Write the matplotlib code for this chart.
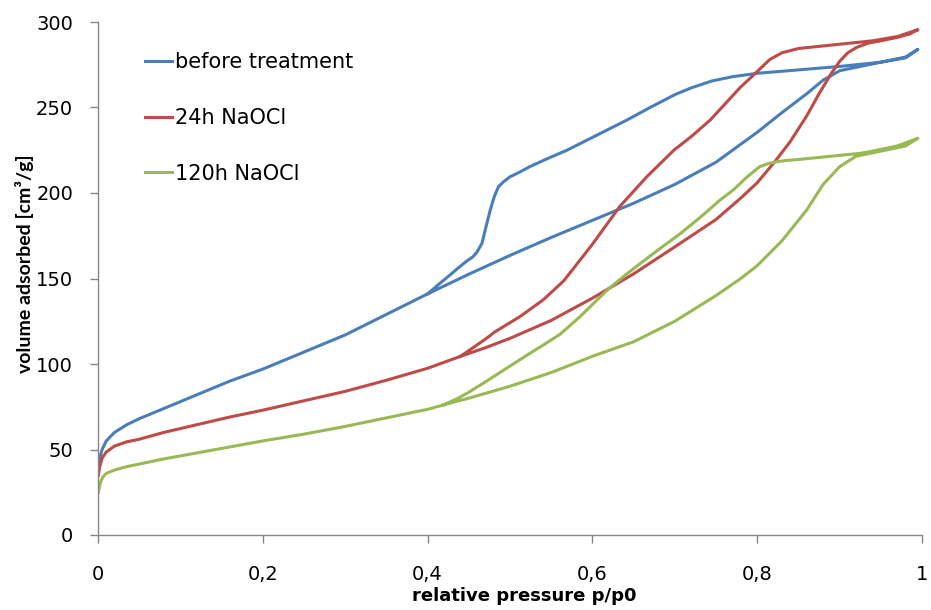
import matplotlib
matplotlib.use("Agg")
import numpy as np
from matplotlib import pyplot as plt

# --- data (p/p0, volume adsorbed cm3/g) ---
# before treatment
p_ads_before = [0.0005, 0.002, 0.005, 0.01, 0.02, 0.035, 0.05, 0.08, 0.12, 0.16, 0.2, 0.25, 0.3, 0.35,
                0.4, 0.45, 0.5, 0.55, 0.6, 0.65, 0.7, 0.75, 0.8, 0.83, 0.86, 0.88, 0.9, 0.93, 0.96, 0.98, 0.995]
v_ads_before = [38, 45, 50, 55, 60, 64.5, 68, 74, 82, 90, 97, 107, 117, 129,
                141, 152.5, 163.5, 174, 184, 194, 205, 218, 235.5, 247, 258, 266, 271.5, 274.5, 277.5, 279.5, 284]
p_des_before = [0.995, 0.98, 0.95, 0.9, 0.85, 0.8, 0.77, 0.745, 0.72, 0.7, 0.67, 0.642, 0.6, 0.569,
                0.545, 0.524, 0.51, 0.5, 0.492, 0.486, 0.481, 0.476, 0.471, 0.466, 0.46, 0.455, 0.447,
                0.439, 0.427, 0.415, 0.4]
v_des_before = [284, 279, 276.5, 274, 272, 270, 268, 265.5, 261.5, 257.5, 250, 242.7, 232.5, 225,
                220, 215.4, 211.8, 209.5, 206.5, 203.7, 198, 190, 180.5, 170.6, 165.5, 162.7, 160,
                156.9, 152, 147.2, 141]

# 24h NaOCl
p_ads_24h = [0.0005, 0.002, 0.005, 0.01, 0.02, 0.035, 0.05, 0.08, 0.12, 0.16, 0.2, 0.25, 0.3, 0.35,
             0.4, 0.44, 0.47, 0.5, 0.55, 0.6, 0.65, 0.7, 0.75, 0.78, 0.8, 0.82, 0.84, 0.86, 0.875,
             0.89, 0.9, 0.91, 0.92, 0.935, 0.95, 0.97, 0.985, 0.995]
v_ads_24h = [35, 40, 45, 48.5, 52, 54.5, 56, 60, 64.5, 69, 73, 78.5, 84, 90.5,
             97.5, 104.5, 109.5, 115, 125.5, 138.5, 152.7, 168.5, 184.5, 197, 206, 217.5, 230, 245, 258,
             270, 277, 282, 285, 287.7, 289, 291, 293, 295.5]
p_des_24h = [0.995, 0.97, 0.94, 0.91, 0.88, 0.85, 0.83, 0.815, 0.8, 0.78, 0.743, 0.72, 0.699, 0.666,
             0.633, 0.6, 0.565, 0.54, 0.512, 0.496, 0.482, 0.47, 0.455, 0.44]
v_des_24h = [295.5, 291.5, 289, 287.5, 286, 284.5, 282, 278, 271, 262, 242.7, 233, 225.1, 209.5,
             192, 170, 148.5, 137.4, 127.7, 123, 118.9, 114.5, 109.5, 104.5]

# 120h NaOCl
p_ads_120h = [0.0005, 0.003, 0.006, 0.01, 0.02, 0.035, 0.05, 0.08, 0.12, 0.16, 0.2, 0.25, 0.3, 0.35,
              0.4, 0.43, 0.45, 0.5, 0.55, 0.6, 0.65, 0.7, 0.75, 0.78, 0.8, 0.83, 0.86, 0.88, 0.9, 0.92,
              0.95, 0.98, 0.995]
v_ads_120h = [25, 31, 34, 36, 38, 40, 41.5, 44.5, 48, 51.5, 55, 59, 63.5, 68.5,
              73.5, 77.5, 80, 87, 95, 104.5, 113, 125, 140, 150, 157.5, 172, 190, 205, 215.4, 221.5,
              224.5, 227.5, 232]
p_des_120h = [0.995, 0.97, 0.94, 0.925, 0.9, 0.875, 0.852, 0.835, 0.824, 0.814, 0.803, 0.788, 0.771,
              0.755, 0.731, 0.706, 0.682, 0.66, 0.64, 0.619, 0.6, 0.585, 0.561, 0.545, 0.524, 0.5,
              0.48, 0.465, 0.45, 0.435, 0.42]
v_des_120h = [232, 227.5, 224.5, 223.2, 222, 220.8, 219.7, 219, 218.3, 217.3, 215.4, 209.5, 201.8,
              195.9, 185.8, 176, 167.5, 159.5, 152, 143.7, 134.8, 127.7, 117.5, 112.5, 106.2, 98.8,
              92.6, 88, 83.5, 79.5, 76.2]

labels = ["before treatment", "24h NaOCl", "120h NaOCl"]
colors = ["#4A7EBB", "#BE4B48", "#98B954"]

x_ticks = [0, 0.2, 0.4, 0.6, 0.8, 1]
x_ticklabels = ["0", "0,2", "0,4", "0,6", "0,8", "1"]
y_ticks = [0, 50, 100, 150, 200, 250, 300]

plt.rcParams['font.family'] = ['DejaVu Sans']

fig = plt.figure(figsize=(9.31, 6.10), dpi=100)
ax = fig.add_axes([98/931, 75/610, 824/931, 513/610])

series = [(p_ads_before, v_ads_before, p_des_before, v_des_before),
          (p_ads_24h, v_ads_24h, p_des_24h, v_des_24h),
          (p_ads_120h, v_ads_120h, p_des_120h, v_des_120h)]

for (pa, va, pd_, vd), lab, c in zip(series, labels, colors):
    p = np.concatenate([pa, pd_])
    v = np.concatenate([va, vd])
    ax.plot(p, v, color=c, lw=2.2, label=lab, solid_joinstyle='round')

ax.set_xlim(0, 1)
ax.set_ylim(0, 300)
ax.set_xticks(x_ticks)
ax.set_xticklabels(x_ticklabels)
ax.set_yticks(y_ticks)

for s in ['top', 'right']:
    ax.spines[s].set_visible(False)
for s in ['left', 'bottom']:
    ax.spines[s].set_color('#868686')
    ax.spines[s].set_linewidth(1.0)

ax.tick_params(axis='both', direction='out', length=6, width=1.0, color='#868686', labelsize=14)
ax.tick_params(axis='y', pad=12)
ax.tick_params(axis='x', pad=15.5)

ax.set_xlabel("relative pressure p/p0", fontsize=13, fontweight='bold')
ax.set_ylabel("volume adsorbed [cm³/g]", fontsize=14, fontweight='bold', family='Lato')
ax.xaxis.set_label_coords(0.517, -0.101)
ax.yaxis.set_label_coords(-0.0775, 0.529)

leg = ax.legend(loc='upper left', bbox_to_anchor=(145/931, 1 - 52/610), bbox_transform=fig.transFigure,
                frameon=False, fontsize=15, handlelength=1.3, handletextpad=0.15,
                labelspacing=1.72, borderpad=0, borderaxespad=0)

fig.savefig("out.png", dpi=100)
